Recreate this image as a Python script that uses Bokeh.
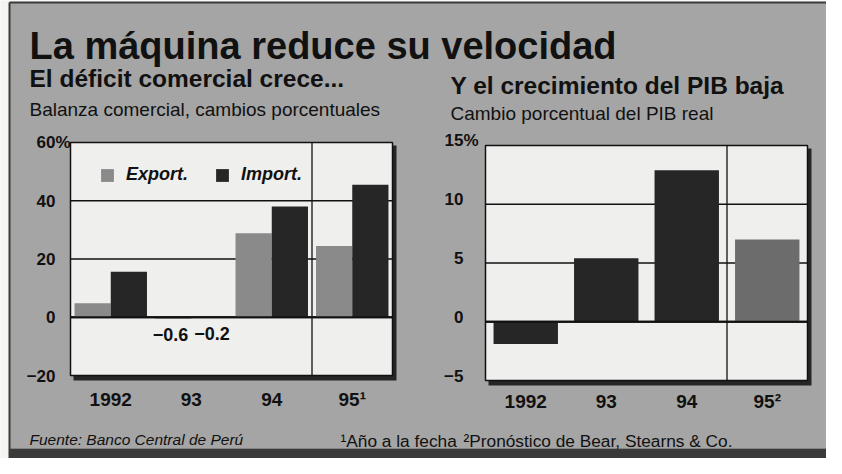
from bokeh.plotting import figure
from bokeh.models import Range1d, ColumnDataSource, Legend, LegendItem
from bokeh.core.properties import value
from bokeh.transform import dodge, factor_cmap
from bokeh.embed import file_html
from bokeh.resources import INLINE

# ---------------- data ----------------
title_text = "La máquina reduce su velocidad"

left_title = "El déficit comercial crece..."
left_subtitle = "Balanza comercial, cambios porcentuales"
left_years = ["1992", "93", "94", "95¹"]
export_pct = [4.8, -0.6, 28.8, 24.5]
import_pct = [15.6, -0.2, 38.0, 45.5]
left_ticks = [-20, 0, 20, 40, 60]
left_tick_labels = ["−20", "0", "20", "40", "60%"]
series_names = ["Export.", "Import."]

right_title = "Y el crecimiento del PIB baja"
right_subtitle = "Cambio porcentual del PIB real"
right_years = ["1992", "93", "94", "95²"]
gdp_pct = [-1.9, 5.4, 12.9, 7.0]
gdp_kind = ["real", "real", "real", "pronóstico"]
right_ticks = [-5, 0, 5, 10, 15]
right_tick_labels = ["−5", "0", "5", "10", "15%"]

source_note = "Fuente: Banco Central de Perú"
note_1 = "¹Año a la fecha"
note_2 = "²Pronóstico de Bear, Stearns & Co."

# ---------------- style ----------------
FONT_NAME = "Liberation Sans"
FONT = value(FONT_NAME)
INK = "#111111"
PANEL = "#a5a5a5"
PLOT_BG = "#efefed"
DARK = "#262626"
MID = "#8a8a8a"
FORECAST = "#6c6c6c"

W, H = 826, 458
CX0, CX1, CY_TOP, CY_BOT = 8, 8 + W, 8, 8 + H


def x_range_for(lo, hi, px_lo, px_hi):
    k = (px_hi - px_lo) / (hi - lo)
    return Range1d(lo - (px_lo - CX0) / k, hi + (CX1 - px_hi) / k), k


def y_range_for(lo, hi, px_bot, px_top):
    k = (px_bot - px_top) / (hi - lo)
    return Range1d(lo - (CY_BOT - px_bot) / k, hi + (px_top - CY_TOP) / k), k


p = figure(width=W, height=H, x_range=Range1d(CX0, CX1), y_range=Range1d(CY_BOT, CY_TOP),
           output_backend="svg", toolbar_location=None, min_border=0, title=None,
           x_axis_location=None, y_axis_location=None,
           background_fill_color="#f4f4f2", border_fill_color="#f4f4f2",
           outline_line_color=None)
p.grid.visible = False

lx, lkx = x_range_for(-0.5, 3.5, 78, 400)
ly, lky = y_range_for(left_ticks[0], left_ticks[-1], 383, 150)
rx, rkx = x_range_for(-0.5, 3.5, 493, 815)
ry, rky = y_range_for(right_ticks[0], right_ticks[-1], 388, 153)
p.extra_x_ranges = {"lx": lx, "rx": rx}
p.extra_y_ranges = {"ly": ly, "ry": ry}

# ---------------- panel ----------------
p.quad(left=[17], right=[CX1 + 5], top=[10], bottom=[456], fill_color=PANEL, line_color=None)
p.quad(left=[17], right=[CX1 + 5], top=[456], bottom=[467], fill_color="#3a3a3a", line_color=None)
p.segment(x0=[17], x1=[CX1], y0=[10], y1=[10], line_color="#3a3a3a", line_width=2)
p.segment(x0=[17], x1=[17], y0=[10], y1=[467], line_color="#3a3a3a", line_width=2)

p.text(x=[37], y=[53], text=[title_text], text_font=FONT, text_font_style="bold",
       text_font_size="38px", text_color=INK, text_baseline="alphabetic")
p.text(x=[37, 458], y=[86, 93], text=[left_title, right_title], text_font=FONT,
       text_font_style="bold", text_font_size="24.5px", text_color=INK, text_baseline="alphabetic")
p.text(x=[37, 458], y=[117, 121], text=[left_subtitle, right_subtitle], text_font=FONT,
       text_font_size="19px", text_color=INK, text_baseline="alphabetic")
p.text(x=[37], y=[447], text=[source_note], text_font=FONT, text_font_style="italic",
       text_font_size="15.5px", text_color=INK, text_baseline="alphabetic")
p.text(x=[348, 471], y=[448, 448], text=[note_1, note_2], text_font=FONT,
       text_font_size="17.3px", text_color=INK, text_baseline="alphabetic")


def chart_frame(xn, yn, ticks, kx, ky, tick_labels, years, tick_dx, tick_dy, year_dy):
    lo, hi = ticks[0], ticks[-1]
    # shadow
    p.quad(left=[-0.5 + 3 / kx], right=[3.5 + 4 / kx], bottom=[lo - 5 / ky], top=[hi - 3 / ky],
           fill_color=DARK, line_color=None, x_range_name=xn, y_range_name=yn)
    p.quad(left=[-0.5], right=[3.5], bottom=[lo], top=[hi], fill_color=PLOT_BG,
           line_color=None, x_range_name=xn, y_range_name=yn)
    inner = ticks[1:-1]
    p.segment(x0=[-0.5] * len(inner), x1=[3.5] * len(inner), y0=inner, y1=inner,
              line_color=INK, line_width=[2.2 if t == 0 else 1.3 for t in inner],
              x_range_name=xn, y_range_name=yn)
    # separator before forecast year
    p.segment(x0=[2.5], x1=[2.5], y0=[lo], y1=[hi], line_color=INK, line_width=1.3,
              x_range_name=xn, y_range_name=yn)
    tsrc = ColumnDataSource(dict(
        x=[-0.5] * len(ticks), y=ticks, text=tick_labels,
        dx=[tick_dx + (15 if s.endswith("%") else 0) for s in tick_labels]))
    p.text(x="x", y="y", text="text", source=tsrc, x_offset="dx", y_offset=tick_dy,
           text_align="right", text_baseline="middle", text_font=FONT,
           text_font_style="bold", text_font_size="17px", text_color=INK,
           x_range_name=xn, y_range_name=yn)
    ysrc = ColumnDataSource(dict(x=list(range(len(years))), y=[lo] * len(years), text=years))
    p.text(x="x", y="y", text="text", source=ysrc, y_offset=year_dy, text_align="center",
           text_baseline="alphabetic", text_font=FONT, text_font_style="bold",
           text_font_size="19px", text_color=INK, x_range_name=xn, y_range_name=yn)
    return lo, hi


# ---------------- left chart ----------------
chart_frame("lx", "ly", left_ticks, lkx, lky, left_tick_labels, left_years, -15, 0, 24)
lsrc = ColumnDataSource(dict(idx=list(range(len(left_years))), exp=export_pct, imp=import_pct))
r_exp = p.vbar(x=dodge("idx", -0.225), top="exp", bottom=0, width=0.45, source=lsrc,
               fill_color=MID, line_color=None, x_range_name="lx", y_range_name="ly")
r_imp = p.vbar(x=dodge("idx", 0.225), top="imp", bottom=0, width=0.45, source=lsrc,
               fill_color=DARK, line_color=None, x_range_name="lx", y_range_name="ly")

# value labels for bars too small to see (export to the left, import to the right)
small = dict(x=[], y=[], text=[], align=[], dx=[])
for i in range(len(left_years)):
    for v, align, dx in ((export_pct[i], "right", -3), (import_pct[i], "left", 3)):
        if abs(v) < 2:
            small["x"].append(i)
            small["y"].append(v)
            small["text"].append(f"{v:.1f}".replace("-", "−"))
            small["align"].append(align)
            small["dx"].append(dx)
p.text(x="x", y="y", text="text", source=ColumnDataSource(small), x_offset="dx", y_offset=16,
       text_align="align", text_baseline="middle", text_font=FONT, text_font_style="bold",
       text_font_size="18px", text_color=INK, x_range_name="lx", y_range_name="ly")
p.segment(x0=[-0.5, 2.5], x1=[2.5, 3.5], y0=[0, 0], y1=[0, 0], line_color=INK, line_width=2.2,
          x_range_name="lx", y_range_name="ly")
p.quad(left=[-0.5], right=[3.5], bottom=[left_ticks[0]], top=[left_ticks[-1]], fill_alpha=0,
       line_color=INK, line_width=1.5, x_range_name="lx", y_range_name="ly")

legend = Legend(items=[LegendItem(label=series_names[0], renderers=[r_exp]),
                       LegendItem(label=series_names[1], renderers=[r_imp])],
                orientation="horizontal", location=(99, 273), padding=0, margin=0,
                spacing=26, label_standoff=11, glyph_width=16, glyph_height=16,
                label_text_font=FONT_NAME, label_text_font_style="bold italic",
                label_text_font_size="18px", label_text_color=INK, label_height=20,
                border_line_color=None, background_fill_alpha=0)
p.add_layout(legend)

# ---------------- right chart ----------------
chart_frame("rx", "ry", right_ticks, rkx, rky, right_tick_labels, right_years, -22, -5, 21)
rsrc = ColumnDataSource(dict(idx=list(range(len(right_years))), gdp=gdp_pct, kind=gdp_kind))
p.vbar(x="idx", top="gdp", bottom=0, width=0.8, source=rsrc,
       fill_color=factor_cmap("kind", [DARK, FORECAST], ["real", "pronóstico"]),
       line_color=None, x_range_name="rx", y_range_name="ry")
p.segment(x0=[-0.5, 2.5], x1=[2.5, 3.5], y0=[0, 0], y1=[0, 0], line_color=INK, line_width=2.2,
          x_range_name="rx", y_range_name="ry")
p.quad(left=[-0.5], right=[3.5], bottom=[right_ticks[0]], top=[right_ticks[-1]], fill_alpha=0,
       line_color=INK, line_width=1.5, x_range_name="rx", y_range_name="ry")

open("out.html", "w").write(file_html(p, INLINE))
